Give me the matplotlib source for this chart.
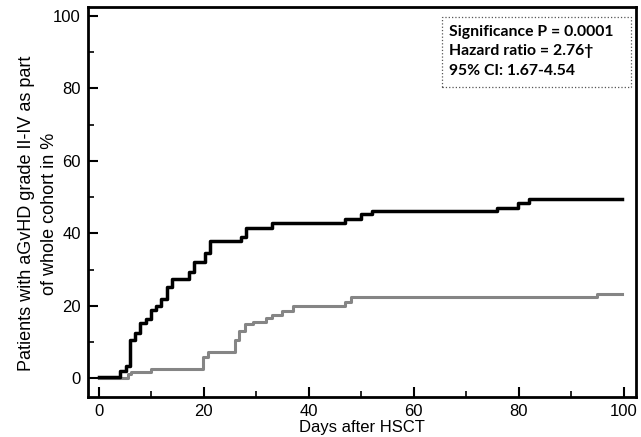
import matplotlib
matplotlib.use("Agg")
import matplotlib.pyplot as plt
from matplotlib.patches import Rectangle
from matplotlib.ticker import MultipleLocator

# --- datos ---
black_days = [0, 4, 5.1, 6, 6.9, 7.9, 8.9, 9.9, 10.9, 11.9, 12.9, 14, 17.1, 18.1,
              20.2, 21.1, 27, 28, 33, 46.9, 50, 52, 75.9, 79.9, 82, 99.7]
black_pct = [0.2, 2, 3.4, 10.5, 12.4, 15.2, 16.3, 18.8, 19.9, 21.8, 25.2, 27.5, 29.4, 32.1,
             34.7, 37.8, 39.0, 41.6, 42.9, 43.9, 45.2, 46.1, 47.1, 48.4, 49.4, 49.4]

gray_days = [0, 5.6, 6.2, 10, 19.9, 20.8, 25.9, 26.7, 27.9, 29.4, 31.9, 32.9, 34.8, 37,
             46.9, 48.1, 94.8, 99.7]
gray_pct = [0, 1.1, 1.6, 2.4, 5.9, 7.1, 10.5, 13.1, 14.9, 15.6, 16.6, 17.4, 18.6, 20.0,
            20.9, 22.3, 23.2, 23.2]

x_ticks = [0, 20, 40, 60, 80, 100]
y_ticks = [0, 20, 40, 60, 80, 100]
stats_text = "Significance P = 0.0001\nHazard ratio = 2.76\u2020\n95% CI: 1.67-4.54"

plt.rcParams['font.family'] = ['Liberation Sans', 'DejaVu Sans']

fig = plt.figure(figsize=(6.41, 4.37), dpi=100)
ax = fig.add_axes([0.137, 0.0915, 0.855, 0.8925])

ax.step(gray_days, gray_pct, where='post', color='#858585', linewidth=2.2)
ax.step(black_days, black_pct, where='post', color='black', linewidth=2.5)

ax.set_xlim(-2.1, 102.3)
ax.set_ylim(-5.2, 102.5)
ax.set_xticks(x_ticks)
ax.set_yticks(y_ticks)
ax.xaxis.set_minor_locator(MultipleLocator(10))
ax.yaxis.set_minor_locator(MultipleLocator(10))
ax.tick_params(which='major', direction='in', length=7, width=1.5, labelsize=12, pad=5)
ax.tick_params(which='minor', direction='in', length=4, width=1.2)
for s in ax.spines.values():
    s.set_linewidth(2)

ax.set_xlabel("Days after HSCT", fontsize=12, labelpad=1)
ax.set_ylabel("Patients with aGvHD grade II-IV as part\nof whole cohort in %", fontsize=13,
              linespacing=1.45)
ax.yaxis.set_label_coords(-0.055, 0.47)

# cuadro de estadísticas
ax.add_patch(Rectangle((0.646, 0.795), 0.345, 0.179, transform=ax.transAxes,
                       facecolor='white', edgecolor='#555555', linestyle=':',
                       linewidth=0.9, zorder=3))
ax.text(0.659, 0.955, stats_text, transform=ax.transAxes, ha='left', va='top',
        fontsize=11.3, fontweight='bold', family=['Lato', 'DejaVu Sans'],
        linespacing=1.5, zorder=4)

fig.savefig("out.png", dpi=100)
